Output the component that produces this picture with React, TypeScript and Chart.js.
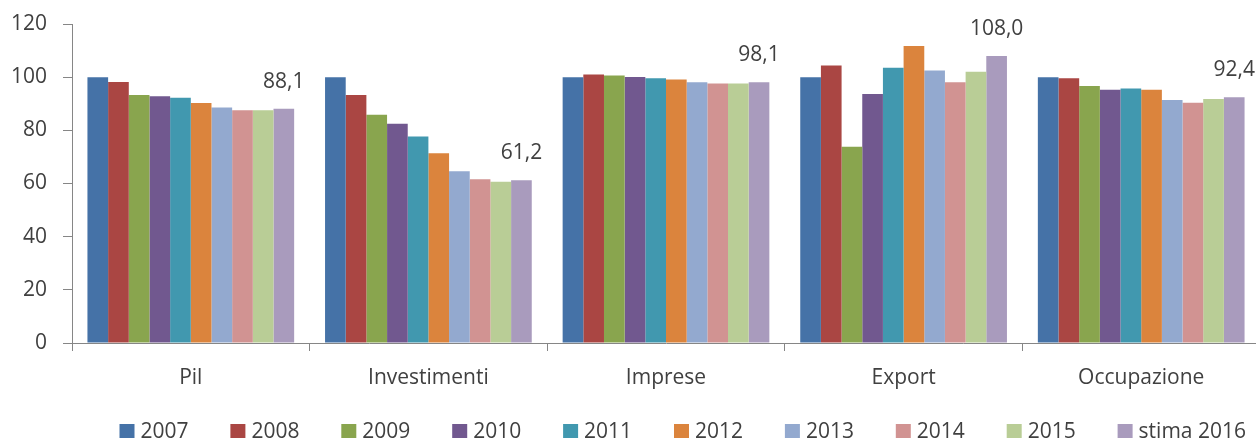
import React, { useEffect, useRef } from "react";
import { Chart, registerables } from "chart.js";

Chart.register(...registerables);

// Indicatori economici, indice 2007 = 100
const categories = ["Pil", "Investimenti", "Imprese", "Export", "Occupazione"];
const seriesLabels = ["2007", "2008", "2009", "2010", "2011", "2012", "2013", "2014", "2015", "stima 2016"];
const seriesColors = [
  "#4572A7", "#AA4643", "#89A54E", "#71588F", "#4198AF",
  "#DB843D", "#93A9CF", "#D19392", "#B9CD96", "#A99BBD",
];

const v2007 = [100.0, 100.0, 100.0, 100.0, 100.0];
const v2008 = [98.2, 93.3, 101.0, 104.4, 99.6];
const v2009 = [93.3, 85.9, 100.6, 73.8, 96.7];
const v2010 = [92.8, 82.5, 100.1, 93.7, 95.3];
const v2011 = [92.3, 77.7, 99.6, 103.5, 95.7];
const v2012 = [90.3, 71.4, 99.1, 111.7, 95.3];
const v2013 = [88.6, 64.6, 98.1, 102.5, 91.4];
const v2014 = [87.6, 61.6, 97.6, 98.1, 90.4];
const v2015 = [87.6, 60.7, 97.6, 102.0, 91.8];
const v2016 = [88.1, 61.2, 98.1, 108.0, 92.4];

const seriesValues = [v2007, v2008, v2009, v2010, v2011, v2012, v2013, v2014, v2015, v2016];

const yTicks = [0, 20, 40, 60, 80, 100, 120];

const FONT_FAMILY = "'Open Sans', 'Noto Sans', sans-serif";
const TEXT_COLOR = "#404040";
const AXIS_COLOR = "#868686";
const CANVAS_W = 1262;
const CANVAS_H = 441;

// Value labels above the bars of the last series (the 2016 estimate)
const valueLabelPlugin = {
  id: "valueLabels",
  afterDatasetsDraw(chart: any) {
    const ctx = chart.ctx;
    const last = chart.data.datasets.length - 1;
    const meta = chart.getDatasetMeta(last);
    const data = chart.data.datasets[last].data as number[];
    ctx.save();
    ctx.font = `21px ${FONT_FAMILY}`;
    ctx.fillStyle = TEXT_COLOR;
    ctx.textAlign = "center";
    ctx.textBaseline = "middle";
    meta.data.forEach((bar: any, i: number) => {
      const text = data[i].toFixed(1).replace(".", ",");
      ctx.fillText(text, bar.x, bar.y - 27);
    });
    ctx.restore();
  },
};

// Legend row with evenly spaced entries under the axis labels
const legendRowPlugin = {
  id: "legendRow",
  afterDraw(chart: any) {
    const ctx = chart.ctx;
    const startX = 119.5;
    const step = 110.9;
    const boxTop = 424;
    const box = 15;
    ctx.save();
    ctx.font = `21px ${FONT_FAMILY}`;
    ctx.textAlign = "left";
    ctx.textBaseline = "middle";
    chart.data.datasets.forEach((ds: any, i: number) => {
      const x = startX + i * step;
      ctx.fillStyle = ds.backgroundColor;
      ctx.fillRect(x, boxTop, box, box - 1);
      ctx.fillStyle = TEXT_COLOR;
      ctx.fillText(ds.label, x + 21, boxTop + 8);
    });
    ctx.restore();
  },
};

export default function App() {
  const canvasRef = useRef<HTMLCanvasElement | null>(null);

  useEffect(() => {
    if (!canvasRef.current) return;
    const chart = new Chart(canvasRef.current, {
      type: "bar",
      data: {
        labels: categories,
        datasets: seriesLabels.map((label, i) => ({
          label,
          data: seriesValues[i],
          backgroundColor: seriesColors[i],
          borderWidth: 0,
          categoryPercentage: 0.87,
          barPercentage: 1.0,
        })),
      },
      options: {
        responsive: false,
        animation: false,
        devicePixelRatio: 1,
        layout: { padding: { top: 24, right: 2, bottom: 38, left: 0 } },
        plugins: {
          legend: { display: false },
          tooltip: { enabled: false },
        },
        scales: {
          x: {
            grid: {
              display: true,
              drawOnChartArea: false,
              drawTicks: true,
              tickLength: 8,
              color: AXIS_COLOR,
              offset: true,
            },
            border: { display: true, color: AXIS_COLOR },
            ticks: {
              color: TEXT_COLOR,
              font: { family: FONT_FAMILY, size: 21 },
              padding: 14,
            },
            afterFit: (scale: any) => {
              scale.height = 60;
            },
          },
          y: {
            min: 0,
            max: 120,
            afterBuildTicks: (scale: any) => {
              scale.ticks = yTicks.map((v) => ({ value: v }));
            },
            grid: {
              display: true,
              drawOnChartArea: false,
              drawTicks: true,
              tickLength: 9,
              color: AXIS_COLOR,
            },
            border: { display: true, color: AXIS_COLOR },
            ticks: {
              color: TEXT_COLOR,
              font: { family: FONT_FAMILY, size: 21 },
              padding: 16,
            },
            afterFit: (scale: any) => {
              scale.width = 72;
              scale.paddingTop = 0;
              scale.paddingBottom = 0;
            },
          },
        },
      },
      plugins: [valueLabelPlugin, legendRowPlugin],
    });
    return () => chart.destroy();
  }, []);

  return (
    <div
      style={{
        position: "fixed",
        left: 0,
        top: 0,
        width: 1256,
        height: 441,
        overflow: "hidden",
        background: "#ffffff",
      }}
    >
      <canvas ref={canvasRef} width={CANVAS_W} height={CANVAS_H} style={{ display: "block" }} />
    </div>
  );
}
